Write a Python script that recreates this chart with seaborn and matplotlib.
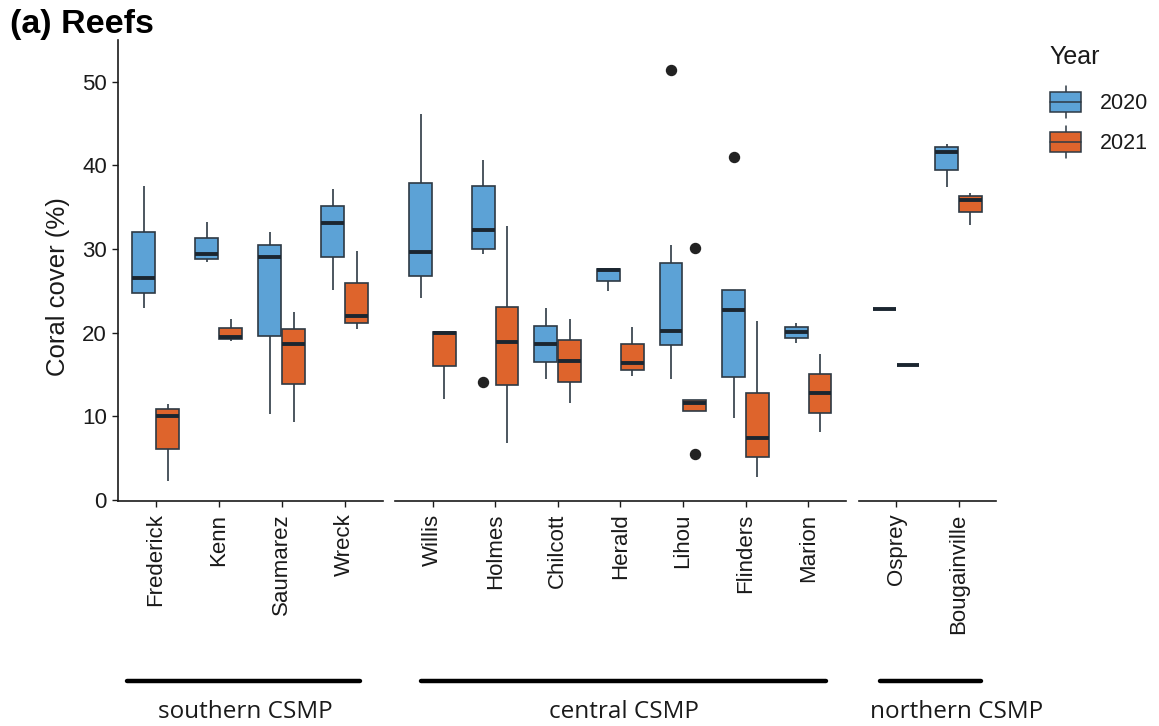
import numpy as np
import pandas as pd
import matplotlib
matplotlib.use("Agg")
import matplotlib.pyplot as plt
import seaborn as sns
from matplotlib.patches import Rectangle, Patch
from matplotlib.lines import Line2D
from matplotlib.legend_handler import HandlerBase

# ---------------- data ----------------
regions = ["southern CSMP", "central CSMP", "northern CSMP"]
reefs_south = ["Frederick", "Kenn", "Saumarez", "Wreck"]
reefs_central = ["Willis", "Holmes", "Chilcott", "Herald", "Lihou", "Flinders", "Marion"]
reefs_north = ["Osprey", "Bougainville"]
years = ["2020", "2021"]

cover_2020 = {
    "Frederick": [23.0, 24.7, 26.5, 32.0, 37.5],
    "Kenn": [28.4, 28.8, 29.4, 31.3, 33.2],
    "Saumarez": [10.3, 19.6, 29.0, 30.5, 32.0],
    "Wreck": [25.1, 29.1, 33.1, 35.1, 37.2],
    "Willis": [24.2, 26.8, 29.6, 37.9, 46.2],
    "Holmes": [14.1, 29.4, 30.0, 31.0, 32.3, 35.0, 37.6, 40.7, 40.7],
    "Chilcott": [14.5, 16.5, 18.7, 20.8, 22.9],
    "Herald": [25.0, 26.2, 27.5, 27.6, 27.6],
    "Lihou": [14.5, 14.5, 18.5, 19.0, 20.2, 25.0, 28.3, 30.5, 51.4],
    "Flinders": [9.8, 9.8, 14.7, 18.0, 22.7, 25.1, 25.1, 25.1, 41.0],
    "Marion": [18.8, 19.4, 20.1, 20.7, 21.2],
    "Osprey": [22.8, 22.8, 22.8, 22.8, 22.8],
    "Bougainville": [37.4, 39.4, 41.6, 42.2, 42.6],
}
cover_2021 = {
    "Frederick": [2.3, 6.1, 10.1, 10.9, 11.5],
    "Kenn": [19.0, 19.2, 19.5, 20.6, 21.7],
    "Saumarez": [9.3, 13.9, 18.6, 20.5, 22.5],
    "Wreck": [20.5, 21.2, 22.0, 25.9, 29.8],
    "Willis": [12.1, 16.0, 20.0, 20.1, 20.1],
    "Holmes": [6.8, 13.7, 18.9, 23.1, 32.8],
    "Chilcott": [11.6, 14.1, 16.6, 19.1, 21.6],
    "Herald": [14.8, 15.5, 16.4, 18.6, 20.7],
    "Lihou": [5.5, 10.6, 10.6, 11.2, 11.6, 11.8, 12.0, 12.0, 30.1],
    "Flinders": [2.8, 5.2, 7.4, 12.8, 21.4],
    "Marion": [8.1, 10.4, 12.8, 15.1, 17.4],
    "Osprey": [16.1, 16.1, 16.1, 16.1, 16.1],
    "Bougainville": [32.9, 34.4, 35.9, 36.4, 36.7],
}
y_ticks = [0, 10, 20, 30, 40, 50]

# ---------------- styling ----------------
BLUE = "#5CA2D6"
ORANGE = "#DE642C"
EDGE = "#2E3944"
MED = "#1B2630"
AXC = "#1a1a1a"

sns.set_theme(style="white")
plt.rcParams["font.family"] = ["Liberation Sans", "DejaVu Sans"]

rows = []
for yr, table in zip(years, [cover_2020, cover_2021]):
    for reef, vals in table.items():
        for v in vals:
            rows.append({"Reef": reef, "Year": yr, "Cover": v})
df = pd.DataFrame(rows)

W, H = 1159, 726
fig = plt.figure(figsize=(W / 100, H / 100), dpi=100)

bottom = (H - 501) / H
height = (501 - 40) / H
panel_px = [(118, 264.7), (395, 450.7), (858.7, 137.3)]
reef_groups = [reefs_south, reefs_central, reefs_north]

axes = []
for i, ((x0, w), reefs) in enumerate(zip(panel_px, reef_groups)):
    ax = fig.add_axes([x0 / W, bottom, w / W, height])
    sub = df[df["Reef"].isin(reefs)]
    sns.boxplot(
        data=sub, x="Reef", y="Cover", hue="Year", order=reefs, hue_order=years,
        palette=[BLUE, ORANGE], saturation=1, width=0.76, gap=0.04, linecolor=EDGE,
        linewidth=1.2, showcaps=False, whis=1.5, legend=False, ax=ax,
        medianprops=dict(color=MED, linewidth=2.8),
        flierprops=dict(marker="o", markerfacecolor="#222222", markeredgecolor="#222222",
                        markersize=7.2),
    )
    ax.set_xlim(-0.6, len(reefs) - 0.4)
    ax.set_ylim(-0.12, 55.0)
    ax.set_xlabel("")
    ax.set_ylabel("")
    for s in ["top", "right"]:
        ax.spines[s].set_visible(False)
    ax.spines["bottom"].set_color(AXC)
    ax.spines["bottom"].set_linewidth(1.2)
    ax.tick_params(axis="x", bottom=True, length=4, width=1.0, color=AXC, pad=5,
                   labelsize=16, labelcolor=AXC, labelrotation=90)
    if i == 0:
        ax.spines["left"].set_color(AXC)
        ax.spines["left"].set_linewidth(1.2)
        ax.set_yticks(y_ticks)
        ax.tick_params(axis="y", left=True, length=4, width=1.0, color=AXC, pad=4,
                       labelsize=16, labelcolor=AXC)
        ax.set_ylabel("Coral cover (%)", fontsize=18.5, color=AXC)
        ax.yaxis.set_label_coords(-0.18, 0.465)
    else:
        ax.spines["left"].set_visible(False)
        ax.set_yticks([])
    ax.grid(False)
    axes.append(ax)

# title
fig.text(10 / W, 1 - 33 / H, "(a) Reefs", fontsize=24.5, fontweight="bold", color="black",
         ha="left", va="baseline")

# region bars and labels
bar_px = [(126.7, 360.0), (420.7, 826.0), (880.0, 980.7)]
label_x = [245.7, 624.0, 956.7]
for (xa, xb), lx, name in zip(bar_px, label_x, regions):
    fig.add_artist(Line2D([xa / W, xb / W], [1 - 681 / H] * 2, color="black", lw=3.2,
                          transform=fig.transFigure))
    fig.text(lx / W, 1 - 718 / H, name, fontsize=17.5, family=["Open Sans", "DejaVu Sans"],
             color=AXC, ha="center", va="baseline")


# legend with boxplot-like keys
class BoxKeyHandler(HandlerBase):
    def create_artists(self, legend, orig_handle, xdescent, ydescent, width, height,
                       fontsize, trans):
        fc = orig_handle.get_facecolor()
        x0, y0 = -xdescent, -ydescent
        cx = x0 + width / 2
        ext = height * 0.3
        arts = [
            Line2D([cx, cx], [y0 + height, y0 + height + ext], color=EDGE, lw=1.1, transform=trans),
            Line2D([cx, cx], [y0 - ext, y0], color=EDGE, lw=1.1, transform=trans),
            Rectangle((x0, y0), width, height, facecolor=fc, edgecolor=EDGE, lw=1.1, transform=trans),
            Line2D([x0, x0 + width], [y0 + height / 2] * 2, color=EDGE, lw=1.1, transform=trans),
        ]
        return arts


fig.text(1049 / W, 1 - 64 / H, "Year", fontsize=18, color=AXC, ha="left", va="baseline")
handles = [Patch(facecolor=BLUE), Patch(facecolor=ORANGE)]
leg = fig.legend(handles, years, handler_map={Patch: BoxKeyHandler()},
                 loc="upper left", bbox_to_anchor=(1050 / W, 1 - 92 / H),
                 frameon=False, fontsize=15.5,
                 handlelength=1.45, handleheight=1.05, handletextpad=0.85,
                 labelspacing=0.8, borderpad=0, borderaxespad=0)
for t in leg.get_texts():
    t.set_color(AXC)

fig.savefig("out.png", dpi=100)
